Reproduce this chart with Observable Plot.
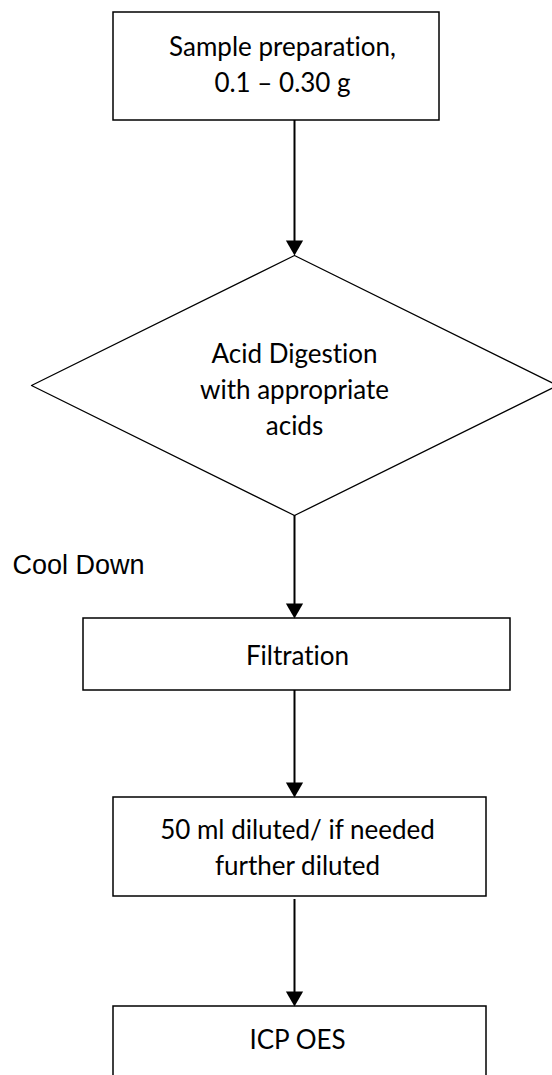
<!DOCTYPE html>
<html>
<head>
<meta charset="utf-8">
<script src="https://cdn.jsdelivr.net/npm/d3@7"></script>
<script src="https://cdn.jsdelivr.net/npm/@observablehq/plot@0.6"></script>
<style>
  html, body { margin: 0; padding: 0; background: #fff; }
  #chart svg { display: block; }
  #chart svg text { font-variant-ligatures: none; font-feature-settings: "liga" 0, "clig" 0; }
</style>
</head>
<body>
<div id="chart"></div>
<script>
// Flowchart steps (labels)
const boxLabels = ["Sample preparation,\n0.1 – 0.30 g", "Filtration", "50 ml diluted/ if needed\nfurther diluted", "ICP OES"];
const boxX1 = [113, 83, 113, 113];
const boxX2 = [439, 510, 486, 486];
const boxY1 = [12, 618, 797, 1006];
const boxY2 = [120, 690, 896, 1090];
const boxTextY = [62, 653, 845, 1037];
const boxTextX = [282, 297, 297, 297];

const diamondLabel = ["Acid Digestion\nwith appropriate\nacids"];
const diamondX = [294, 557, 294, 31, 294];
const diamondY = [255, 385, 515, 385, 255];

const arrowFrom = [120, 515, 690, 899];
const arrowTo = [255, 618, 797, 1006];
const arrowX = [294, 294, 294, 294];

const sideLabel = ["Cool Down"];
const sideX = [12];
const sideY = [565];

const boxes = boxLabels.map((label, i) => ({label, x1: boxX1[i], x2: boxX2[i], y1: boxY1[i], y2: boxY2[i], tx: boxTextX[i], ty: boxTextY[i]}));
const diamond = diamondX.map((x, i) => ({x, y: diamondY[i]}));
const arrows = arrowFrom.map((y1, i) => ({x: arrowX[i], y1, y2: arrowTo[i]}));

const font = "Lato, 'Open Sans', sans-serif";

const chart = Plot.plot({
  width: 552,
  height: 1075,
  margin: 0,
  x: {domain: [0, 552], axis: null},
  y: {domain: [0, 1075], reverse: true, axis: null},
  marks: [
    Plot.rect(boxes, {x1: "x1", x2: "x2", y1: "y1", y2: "y2", fill: "white", stroke: "black", strokeWidth: 1.5}),
    Plot.line(diamond, {x: "x", y: "y", stroke: "black", strokeWidth: 1.3}),
    Plot.ruleX(arrows, {x: "x", y1: "y1", y2: d => d.y2 - 8, stroke: "black", strokeWidth: 2}),
    Plot.dot(arrows, {x: "x", y: d => d.y2 - 10, symbol: "triangle", rotate: 180, r: 6.4, fill: "black", stroke: "none"}),
    Plot.text(boxes, {x: "tx", y: "ty", text: "label", fontSize: 26, lineHeight: 1.385, fill: "black", fontFamily: font}),
    Plot.text(diamondLabel, {x: 294, y: 387, text: d => d, fontSize: 26, lineHeight: 1.385, fill: "black", fontFamily: font}),
    Plot.text(sideLabel, {x: sideX, y: sideY, text: d => d, textAnchor: "start", fontSize: 27, fill: "black", fontFamily: "'Liberation Sans', Arial, sans-serif"})
  ]
});
document.getElementById("chart").appendChild(chart);
</script>
</body>
</html>
